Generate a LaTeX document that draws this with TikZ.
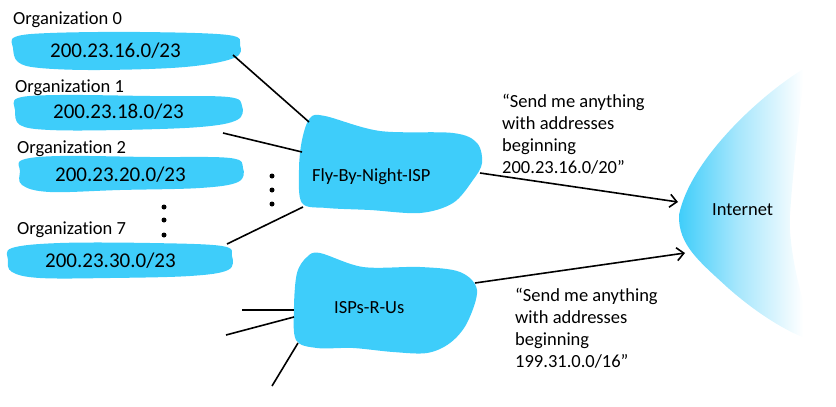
\documentclass[tikz,border=0pt]{standalone}
\usepackage{fontspec}
\setmainfont{Carlito}[Ligatures=NoCommon]
\usetikzlibrary{arrows.meta}
\definecolor{blobc}{RGB}{62,205,250}
\definecolor{blobm}{RGB}{165,230,252}
\pgfdeclarehorizontalshading{inetshade}{100bp}{color(0bp)=(blobc); color(25bp)=(blobc); color(46bp)=(blobm); color(70bp)=(white); color(100bp)=(white)}
\begin{document}
\begin{tikzpicture}[x=1pt,y=-1pt,
 blob/.style={fill=blobc, draw=none},
 lbl/.style={inner sep=0pt, anchor=base west, font=\fontsize{18.5}{21.7}\selectfont},
 ip/.style={inner sep=0pt, anchor=base west, font=\fontsize{21}{24}\selectfont},
 quote/.style={inner sep=0pt, anchor=base west, align=left, font=\fontsize{18.5}{21.7}\selectfont},
 link/.style={line width=1.6pt},
 arr/.style={line width=1.6pt, -{Straight Barb[length=7pt,width=13pt,line width=1.6pt]}},
 dotc/.style={fill=black, circle, inner sep=0pt, minimum size=5pt}]
\useasboundingbox (0,0) rectangle (836,407);

% organization blobs
\fill[blob] plot[smooth cycle, tension=0.6] coordinates {(15,37) (50,33) (140,32) (228,35) (240,45) (234,58) (185,67) (100,70) (40,68) (18,62) (13,48)};
\fill[blob] plot[smooth cycle, tension=0.6] coordinates {(18,98) (60,95) (150,96) (228,97) (242,106) (237,120) (200,127) (120,130) (50,130) (20,125) (15,110)};
\fill[blob] plot[smooth cycle, tension=0.6] coordinates {(22,160) (60,156) (150,157) (230,158) (243,168) (238,182) (200,188) (120,190) (50,192) (22,185) (20,171)};
\fill[blob] plot[smooth cycle, tension=0.6] coordinates {(12,248) (60,243) (150,243) (222,246) (232,256) (228,270) (190,276) (110,278) (40,278) (12,272) (8,260)};

% ISP blobs
\fill[blob] plot[smooth cycle, tension=0.55] coordinates {(310,118) (325,116) (380,131) (453,133) (477,143) (482,163) (473,180) (453,203) (420,213) (370,210) (327,208) (302,203) (299,170) (302,140)};
\fill[blob] plot[smooth cycle, tension=0.55] coordinates {(307,257) (320,253) (363,267) (420,267) (460,272) (477,290) (467,323) (450,343) (427,353) (393,352) (353,348) (317,348) (296,340) (294,307) (297,273)};

% Internet cloud
\shade[shading=inetshade] (805,68) .. controls (760,95) and (690,160) .. (679,215) .. controls (678,245) and (700,262) .. (727,287) .. controls (755,312) and (790,335) .. (817,342) .. controls (800,300) and (788,245) .. (790,215) .. controls (792,180) and (800,110) .. (805,68) -- cycle;

% texts
\node[lbl] (l0) at (13,24) {Organization 0};
\node[lbl] (l1) at (15,92) {Organization 1};
\node[lbl] (l2) at (17,153) {Organization 2};
\node[lbl] (l7) at (17,234) {Organization 7};
\node[ip] (p0) at (50,57) {200.23.16.0/23};
\node[ip] (p1) at (53,118) {200.23.18.0/23};
\node[ip] (p2) at (55,181) {200.23.20.0/23};
\node[ip] (p7) at (45,267) {200.23.30.0/23};
\node[lbl] (fbn) at (312,181) {Fly-By-Night-ISP};
\node[lbl] (rus) at (334,313) {ISPs-R-Us};
\node[lbl] (inet) at (712,215) {Internet};
\node[quote] (q1) at (502,173) {“Send me anything\\with addresses\\beginning\\200.23.16.0/20”};
\node[quote] (q2) at (515,367) {“Send me anything\\with addresses\\beginning\\199.31.0.0/16”};

% dots
\node[dotc] (d1) at (164,207) {};
\node[dotc] (d2) at (164,220) {};
\node[dotc] (d3) at (164,235) {};
\node[dotc] (d4) at (272,176) {};
\node[dotc] (d5) at (272,190) {};
\node[dotc] (d6) at (272,204) {};

% connector ends
\coordinate (o0) at (233,55);
\coordinate (o1) at (223,133);
\coordinate (o7) at (227,244);
\coordinate (f1) at (309,122);
\coordinate (f2) at (302,152);
\coordinate (f3) at (303,207);
\coordinate (fe) at (480,173);
\coordinate (re) at (475,283);
\coordinate (ia) at (678,202);
\coordinate (ib) at (685,253);
\coordinate (r1) at (294,310);
\coordinate (r2) at (294,317);
\coordinate (r3) at (298,343);
\coordinate (x1) at (242,310);
\coordinate (x2) at (226,335);
\coordinate (x3) at (272,386);

\draw[link] (o0) -- (f1);
\draw[link] (o1) -- (f2);
\draw[link] (o7) -- (f3);
\draw[link] (x1) -- (r1);
\draw[link] (x2) -- (r2);
\draw[link] (x3) -- (r3);
\draw[arr] (fe) -- (ia);
\draw[arr] (re) -- (ib);
\end{tikzpicture}
\end{document}
